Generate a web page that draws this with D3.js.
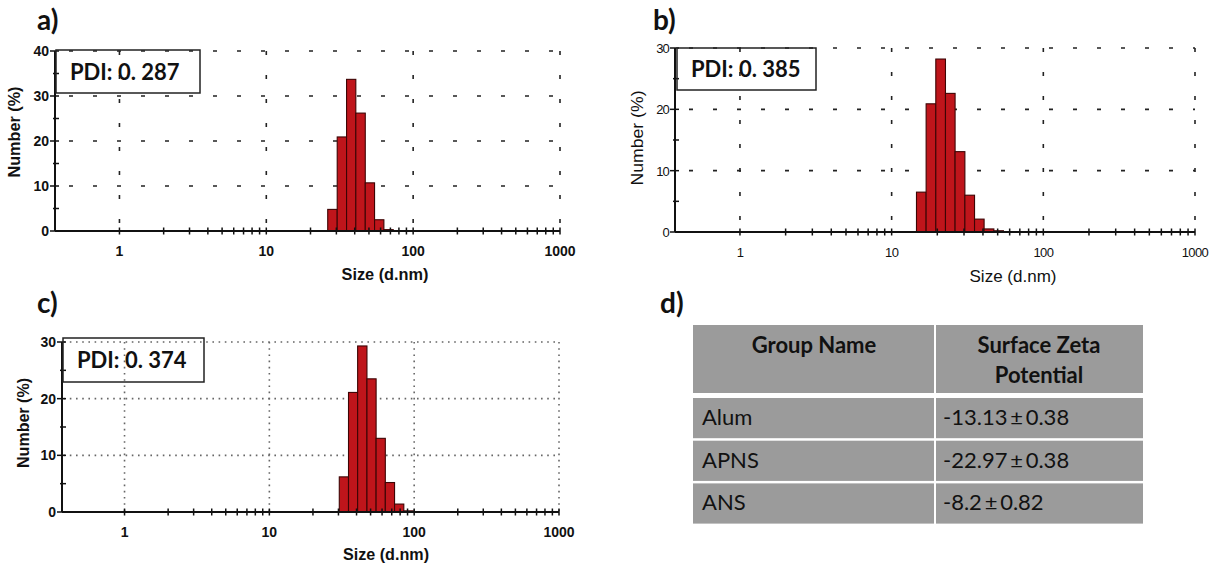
<!DOCTYPE html>
<html>
<head>
<meta charset="utf-8">
<script src="https://cdn.jsdelivr.net/npm/d3@7"></script>
<style>
  body { margin: 0; background: #fff; }
  svg { display: block; }
</style>
</head>
<body>
<div id="visSpace"></div>
<script>
//Size axis ticks and labels (d.nm, log scale)
var sizeTicks = [1, 10, 100, 1000];
var yTicksA = [0, 10, 20, 30, 40];
var yTicksBC = [0, 10, 20, 30];

//Histogram bins (lower edges + last upper edge) and Number (%) values
var binEdgesA = [26.2, 30.4, 35.2, 40.7, 47.2, 54.6, 63.2, 73.2];
var numberA = [4.8, 20.9, 33.7, 26.2, 10.7, 2.5, 0.3];
var binEdgesB = [14.58, 16.88, 19.55, 22.64, 26.2, 30.4, 35.2, 40.7, 47.2, 54.6];
var numberB = [6.5, 20.9, 28.2, 22.6, 13.1, 6.0, 2.1, 0.5, 0.2];
var binEdgesC = [30.4, 35.2, 40.7, 47.2, 54.6, 63.2, 73.2, 84.8, 98.2];
var numberC = [6.2, 21.1, 29.3, 23.5, 13.0, 5.2, 1.4, 0.2];

var pdiLabels = ["PDI: 0. 287", "PDI: 0. 385", "PDI: 0. 374"];
var panelLetters = ["a)", "b)", "c)", "d)"];

//Zeta potential table
var tableHeaders = [["Group Name"], ["Surface Zeta", "Potential"]];
var groupNames = ["Alum", "APNS", "ANS"];
var zetaValues = ["-13.13\u2009\u00b1\u20090.38", "-22.97\u2009\u00b1\u20090.38", "-8.2\u2009\u00b1\u20090.82"];

var width = 1220, height = 568;
var svg = d3.select("#visSpace").append("svg")
            .attr("width", width)
            .attr("height", height);

//Layout of the three distribution plots
var panels = [
  {edges: binEdgesA, values: numberA, yTicks: yTicksA, pdi: pdiLabels[0], letter: panelLetters[0],
   left: 55, right: 560, top: 51, bottom: 231, xMin: 0.364,
   grid: "dash", bold: true, letterPos: [37, 30],
   box: [56, 50, 144, 43], yTitle: [20, 132, 91], xTitle: [385, 280, 87]},
  {edges: binEdgesB, values: numberB, yTicks: yTicksBC, pdi: pdiLabels[1], letter: panelLetters[1],
   left: 675, right: 1195, top: 48, bottom: 232, xMin: 0.373,
   grid: "dash", bold: false, letterPos: [653, 30],
   box: [677, 48, 139, 42], yTitle: [643, 138, 95], xTitle: [1013, 282, 87]},
  {edges: binEdgesC, values: numberC, yTicks: yTicksBC, pdi: pdiLabels[2], letter: panelLetters[2],
   left: 62, right: 559, top: 342, bottom: 512, xMin: 0.37,
   grid: "dot", bold: true, letterPos: [37, 313],
   box: [63, 338, 141, 44], yTitle: [29, 423, 90], xTitle: [386, 560, 86]}
];

panels.forEach(function(p){
  var g = svg.append("g");
  var x = d3.scaleLog().domain([p.xMin, 1000]).range([p.left, p.right]);
  var yMax = d3.max(p.yTicks);
  var y = d3.scaleLinear().domain([0, yMax]).range([p.bottom, p.top]);
  var labelFont = p.bold ? "bold" : "normal";

  //Grid lines (dashed or dotted)
  var gridDash = p.grid == "dash" ? "4,20" : "1.6,4.6";
  var gridColor = p.grid == "dash" ? "#222" : "#666";
  g.append("g").selectAll("line")
   .data(p.yTicks.filter(function(d){ return d > 0; }))
   .enter().append("line")
   .attr("x1", p.left).attr("x2", p.right)
   .attr("y1", function(d){ return y(d); })
   .attr("y2", function(d){ return y(d); })
   .attr("stroke", gridColor).attr("stroke-width", 1.6)
   .attr("stroke-dasharray", gridDash)
   .attr("stroke-dashoffset", -14);
  g.append("g").selectAll("line")
   .data(sizeTicks)
   .enter().append("line")
   .attr("x1", function(d){ return x(d); })
   .attr("x2", function(d){ return x(d); })
   .attr("y1", p.top).attr("y2", p.bottom)
   .attr("stroke", gridColor).attr("stroke-width", 1.6)
   .attr("stroke-dasharray", gridDash);

  //Histogram bars
  g.append("g").selectAll("rect")
   .data(p.values)
   .enter().append("rect")
   .attr("x", function(d, i){ return x(p.edges[i]); })
   .attr("width", function(d, i){ return x(p.edges[i + 1]) - x(p.edges[i]); })
   .attr("y", function(d){ return y(d); })
   .attr("height", function(d){ return p.bottom - y(d); })
   .attr("fill", "#bf151b")
   .attr("stroke", "#3d0505")
   .attr("stroke-width", 1.1);

  //Axis lines
  g.append("line").attr("x1", p.left).attr("x2", p.right)
   .attr("y1", p.bottom).attr("y2", p.bottom)
   .attr("stroke", "#111").attr("stroke-width", 2);
  g.append("line").attr("x1", p.left).attr("x2", p.left)
   .attr("y1", p.top).attr("y2", p.bottom)
   .attr("stroke", "#111").attr("stroke-width", 2);

  //Minor x ticks (1..1000)
  g.append("g").selectAll("line")
   .data(x.ticks().filter(function(d){ return d >= 1; }))
   .enter().append("line")
   .attr("x1", function(d){ return x(d); })
   .attr("x2", function(d){ return x(d); })
   .attr("y1", p.bottom - 3.5).attr("y2", p.bottom + 3.5)
   .attr("stroke", "#111").attr("stroke-width", 1.5);

  //y ticks every 5
  var yMinor = d3.range(0, yMax + 1, 5);
  g.append("g").selectAll("line")
   .data(yMinor)
   .enter().append("line")
   .attr("x1", function(d){ return d % 10 == 0 ? p.left - 5 : p.left - 2; })
   .attr("x2", p.left + 4)
   .attr("y1", function(d){ return y(d); })
   .attr("y2", function(d){ return y(d); })
   .attr("stroke", "#111").attr("stroke-width", 1.5);

  //Tick labels
  g.append("g").selectAll("text")
   .data(p.yTicks)
   .enter().append("text")
   .attr("x", p.left - 6)
   .attr("y", function(d){ return y(d) + 5; })
   .attr("text-anchor", "end")
   .attr("font-family", "Liberation Sans, Arial, sans-serif")
   .attr("font-weight", labelFont)
   .attr("font-size", p.bold ? "14px" : "13px")
   .attr("letter-spacing", p.bold ? 0 : -0.8)
   .attr("fill", "#111")
   .text(function(d){ return d; });
  g.append("g").selectAll("text")
   .data(sizeTicks)
   .enter().append("text")
   .attr("x", function(d){ return x(d); })
   .attr("y", p.bottom + 25)
   .attr("text-anchor", "middle")
   .attr("font-family", "Liberation Sans, Arial, sans-serif")
   .attr("font-weight", labelFont)
   .attr("font-size", p.bold ? "14px" : "13px")
   .attr("letter-spacing", p.bold ? 0 : -0.6)
   .attr("fill", "#111")
   .text(function(d){ return d; });

  //Axis titles
  g.append("text")
   .attr("x", p.xTitle[0]).attr("y", p.xTitle[1])
   .attr("text-anchor", "middle")
   .attr("font-family", "Liberation Sans, Arial, sans-serif")
   .attr("font-weight", labelFont)
   .attr("font-size", "17px")
   .attr("textLength", p.xTitle[2])
   .attr("lengthAdjust", "spacingAndGlyphs")
   .attr("fill", "#111")
   .text("Size (d.nm)");
  g.append("text")
   .attr("transform", "translate(" + p.yTitle[0] + "," + p.yTitle[1] + ") rotate(-90)")
   .attr("text-anchor", "middle")
   .attr("font-family", "Liberation Sans, Arial, sans-serif")
   .attr("font-weight", labelFont)
   .attr("font-size", "16px")
   .attr("textLength", p.yTitle[2])
   .attr("lengthAdjust", "spacingAndGlyphs")
   .attr("fill", "#111")
   .text("Number (%)");

  //PDI box (transparent, grid shows through)
  g.append("rect")
   .attr("x", p.box[0]).attr("y", p.box[1])
   .attr("width", p.box[2]).attr("height", p.box[3])
   .attr("fill", "none").attr("stroke", "#222").attr("stroke-width", 1.5);
  g.append("text")
   .attr("x", p.box[0] + 14).attr("y", p.box[1] + p.box[3] / 2 + 8)
   .attr("font-family", "Lato, sans-serif")
   .attr("font-weight", "bold")
   .attr("font-size", "22px")
   .attr("fill", "#111")
   .text(p.pdi);

  //Panel letter
  svg.append("text")
     .attr("x", p.letterPos[0]).attr("y", p.letterPos[1])
     .attr("font-family", "Lato, sans-serif")
     .attr("font-weight", "bold")
     .attr("font-size", "28px")
     .attr("fill", "#111")
     .text(p.letter);
});

//Panel d: zeta potential table
svg.append("text")
   .attr("x", 660).attr("y", 313)
   .attr("font-family", "Lato, sans-serif")
   .attr("font-weight", "bold")
   .attr("font-size", "28px")
   .attr("fill", "#111")
   .text(panelLetters[3]);

var tbl = {left: 693, mid: 935, right: 1143, headTop: 325, headBottom: 393,
           rowTop: 398, rowH: 42.7};
var tg = svg.append("g");
var cellFill = "#9b9b9b";
//Header cells
tg.append("rect").attr("x", tbl.left).attr("y", tbl.headTop)
  .attr("width", tbl.mid - tbl.left - 1).attr("height", tbl.headBottom - tbl.headTop)
  .attr("fill", cellFill);
tg.append("rect").attr("x", tbl.mid + 1).attr("y", tbl.headTop)
  .attr("width", tbl.right - tbl.mid - 1).attr("height", tbl.headBottom - tbl.headTop)
  .attr("fill", cellFill);
tableHeaders.forEach(function(lines, c){
  var cx = c == 0 ? (tbl.left + tbl.mid) / 2 : (tbl.mid + tbl.right) / 2;
  lines.forEach(function(line, k){
    tg.append("text")
      .attr("x", cx).attr("y", 353 + k * 30)
      .attr("text-anchor", "middle")
      .attr("font-family", "Lato, sans-serif")
      .attr("font-weight", "bold")
      .attr("font-size", "22px")
      .attr("fill", "#111")
      .text(line);
  });
});
//Body rows
var rows = tg.selectAll("g.row")
  .data(groupNames)
  .enter().append("g")
  .attr("class", "row")
  .attr("transform", function(d, i){ return "translate(0," + (tbl.rowTop + i * tbl.rowH) + ")"; });
rows.append("rect").attr("x", tbl.left).attr("y", 0)
    .attr("width", tbl.mid - tbl.left - 1).attr("height", tbl.rowH - 2.5)
    .attr("fill", cellFill);
rows.append("rect").attr("x", tbl.mid + 1).attr("y", 0)
    .attr("width", tbl.right - tbl.mid - 1).attr("height", tbl.rowH - 2.5)
    .attr("fill", cellFill);
rows.append("text")
    .attr("x", tbl.left + 9).attr("y", 27)
    .attr("font-family", "Lato, sans-serif")
    .attr("font-size", "22px")
    .attr("fill", "#111")
    .text(function(d){ return d; });
rows.append("text")
    .attr("x", tbl.mid + 8).attr("y", 27)
    .attr("font-family", "Lato, sans-serif")
    .attr("font-size", "22px")
    .attr("fill", "#111")
    .text(function(d, i){ return zetaValues[i]; });
</script>
</body>
</html>
